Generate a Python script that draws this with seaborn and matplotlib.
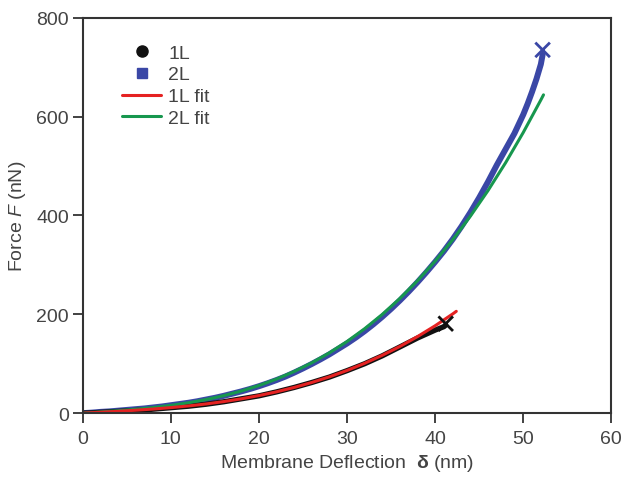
import numpy as np
import pandas as pd
import seaborn as sns
import matplotlib.pyplot as plt
from matplotlib.lines import Line2D

# measured data (deflection in nm, force in nN)
d_1L = [0, 1, 2, 3, 4, 5, 6, 7, 8, 9, 10, 11, 12, 13, 14, 15, 16, 17, 18, 19, 20,
        21, 22, 23, 24, 25, 26, 27, 28, 29, 30, 31, 32, 33, 34, 35, 36, 37, 38, 39,
        40, 41, 41.2]
f_1L = [0, 0.5, 1.5, 2.5, 3.5, 4.5, 5.5, 6.5, 8, 9.5, 11, 12.5, 14, 16, 18, 20.5, 23,
        26, 29, 32, 35, 39, 43, 47.5, 52, 57, 62, 67.5, 73, 79.5, 86, 93, 100, 108,
        116, 125, 134, 143, 152, 160, 168, 175, 178]

d_2L = [0, 1, 2, 3, 4, 5, 6, 7, 8, 9, 10, 11, 12, 13, 14, 15, 16, 17, 18, 19, 20,
        21, 22, 23, 24, 25, 26, 27, 28, 29, 30, 31, 32, 33, 34, 35, 36, 37, 38, 39,
        40, 41, 42, 43, 44, 45, 46, 47, 48, 49, 50, 50.5, 51, 51.5, 52, 52.2]
f_2L = [0, 1, 2.5, 3.5, 5, 6.5, 8, 9.5, 11.5, 13.5, 16, 18.5, 21, 24, 27.5, 31, 35,
        39.5, 44, 49, 54.5, 60.5, 67, 74, 82, 90.5, 99.5, 109, 119, 130, 141, 153,
        166, 180, 195, 211, 228, 246, 265, 285, 306, 328, 352, 378, 406, 436, 468,
        502, 534, 566, 604, 626, 650, 676, 706, 725]

# fits
d_1L_fit = [0, 2, 4, 6, 8, 10, 12, 14, 16, 18, 20, 22, 24, 26, 28, 30, 32, 34, 36,
            38, 40, 42, 42.4]
f_1L_fit = [0, 1.8, 3.7, 5.9, 8.3, 11.2, 14.6, 18.6, 23.4, 29.0, 35.6, 43.2, 52.0,
            62.1, 73.5, 86.4, 100.9, 117.1, 135.0, 154.9, 176.8, 200.8, 206]

d_2L_fit = [0, 2, 4, 6, 8, 10, 12, 14, 16, 18, 20, 22, 24, 26, 28, 30, 32, 34, 36,
            38, 40, 42, 44, 46, 48, 50, 52, 52.3]
f_2L_fit = [0, 2.4, 4.9, 7.9, 11.4, 15.7, 21.0, 27.5, 35.3, 44.7, 55.9, 69.0, 84.3,
            101.9, 122.1, 145.0, 170.9, 199.8, 232.1, 267.9, 307.5, 350.9, 398.5,
            450.3, 506.7, 567.8, 633.7, 644]

# rupture points
d_break = [41.2, 52.2]
f_break = [181, 735]
break_labels = ['1L', '2L']

c_1L = '#111111'
c_2L = '#3a47a6'
c_1L_fit = '#e52222'
c_2L_fit = '#17974e'
text_col = '#444444'

sns.set_theme(style='ticks')
plt.rcParams['font.family'] = ['Liberation Sans', 'DejaVu Sans']
plt.rcParams['mathtext.fontset'] = 'custom'
plt.rcParams['mathtext.rm'] = 'Liberation Sans'
plt.rcParams['mathtext.it'] = 'Liberation Sans:italic'
plt.rcParams['mathtext.bf'] = 'Liberation Sans:bold'

fig = plt.figure(figsize=(6.27, 4.81), dpi=100)
ax = fig.add_axes([0.132, 0.139, 0.843, 0.822])

sns.lineplot(x=d_2L, y=f_2L, color=c_2L, linewidth=4.3, ax=ax, sort=False)
sns.lineplot(x=d_1L, y=f_1L, color=c_1L, linewidth=3.8, ax=ax, sort=False)
sns.lineplot(x=d_2L_fit, y=f_2L_fit, color=c_2L_fit, linewidth=2.2, ax=ax, sort=False)
sns.lineplot(x=d_1L_fit, y=f_1L_fit, color=c_1L_fit, linewidth=2.2, ax=ax, sort=False)

brk = pd.DataFrame({'d': d_break, 'f': f_break, 's': break_labels})
sns.scatterplot(data=brk, x='d', y='f', hue='s', palette={'1L': c_1L, '2L': c_2L},
                marker='x', s=110, linewidth=2, ax=ax, legend=False, zorder=5)

ax.set_xlim(0, 60)
ax.set_ylim(0, 800)
ax.set_xticks(range(0, 61, 10))
ax.set_yticks(range(0, 801, 200))
ax.tick_params(axis='both', direction='out', length=7, width=1.3, colors='#333333',
               labelsize=14, labelcolor=text_col)
ax.tick_params(axis='x', pad=5)
ax.tick_params(axis='y', pad=3)
for sp in ax.spines.values():
    sp.set_visible(True)
    sp.set_color('#333333')
    sp.set_linewidth(1.5)

ax.set_xlabel('Membrane Deflection  $\\mathbf{\\delta}$ (nm)', fontsize=14, color=text_col,
              labelpad=4)
ax.set_ylabel('Force $\\mathit{F}$ (nN)', fontsize=14, color=text_col, labelpad=6)

handles = [
    Line2D([], [], color=c_1L, marker='o', linestyle='none', markersize=8),
    Line2D([], [], color=c_2L, marker='s', linestyle='none', markersize=7),
    Line2D([], [], color=c_1L_fit, linewidth=2.2),
    Line2D([], [], color=c_2L_fit, linewidth=2.2),
]
leg = ax.legend(handles, ['1L', '2L', '1L fit', '2L fit'], loc='upper left',
                bbox_to_anchor=(0.042, 0.978), frameon=False, fontsize=14,
                handlelength=2.0, labelspacing=0.22, handletextpad=0.35)
for t in leg.get_texts():
    t.set_color(text_col)

fig.savefig('out.png', dpi=100)
